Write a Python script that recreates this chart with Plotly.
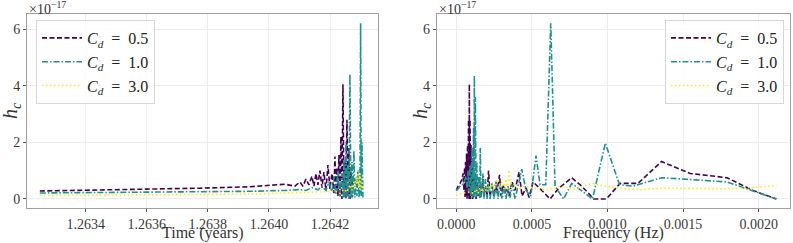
import plotly.graph_objects as go

# ---- data (h_c in units of 1e-17) ----
labels = ["<i>C</i><sub><i>d</i></sub>\u2002=\u20020.5", "<i>C</i><sub><i>d</i></sub>\u2002=\u20021.0",
          "<i>C</i><sub><i>d</i></sub>\u2002=\u20023.0"]

t_05 = [1.26325, 1.263447, 1.263611, 1.263774, 1.263938, 1.2640033, 1.2640524, 1.2640851,
        1.2641015, 1.2641113, 1.2641211, 1.264131, 1.2641408, 1.2641473, 1.2641539, 1.2641604,
        1.264167, 1.2641735, 1.26418, 1.2641866, 1.2641931, 1.2641997, 1.2642062, 1.2642128,
        1.264216, 1.2642193, 1.2642226, 1.2642259, 1.2642291, 1.2642324, 1.2642357, 1.2642389,
        1.2642422, 1.2642455, 1.2642488, 1.264252, 1.2642553, 1.2642586, 1.2642619, 1.2642651,
        1.2642684, 1.2642717, 1.2642749]
h_05 = [0.28, 0.31, 0.34, 0.38, 0.43, 0.47, 0.52, 0.45,
        0.6, 0.45, 0.7, 0.5, 0.8, 0.45, 0.9, 0.5,
        1.0, 0.4, 0.95, 0.3, 1.2, 0.35, 0.9, 0.2,
        1.5, 0.3, 1.1, 0.1, 1.55, 0.05, 2.2, 0.0,
        4.05, 0.1, 1.3, 0.0, 2.8, 0.05, 1.8, 0.0,
        1.1, 0.05, 0.8]

t_10 = [1.26325, 1.263447, 1.263611, 1.263774, 1.263938, 1.2640524, 1.2641015, 1.2641211,
        1.2641408, 1.2641604, 1.2641735, 1.2641866, 1.2641964, 1.2642062, 1.2642128, 1.2642193,
        1.2642259, 1.2642324, 1.2642389, 1.2642439, 1.2642455, 1.2642488, 1.264252, 1.2642553,
        1.2642586, 1.2642619, 1.2642651, 1.2642684, 1.2642717, 1.2642749, 1.2642782, 1.2642815,
        1.2642848, 1.264288, 1.2642913, 1.2642946, 1.2642978, 1.2643001, 1.2643021, 1.2643044,
        1.2643077]
h_10 = [0.21, 0.22, 0.23, 0.25, 0.27, 0.3, 0.33, 0.3,
        0.4, 0.32, 0.45, 0.3, 0.6, 0.25, 0.8, 0.15,
        1.0, 0.1, 0.9, 0.05, 1.4, 0.05, 2.0, 0.1,
        1.2, 0.0, 4.4, 0.05, 1.3, 0.1, 1.7, 0.05,
        0.8, 0.1, 1.0, 0.05, 0.3, 6.2, 0.1, 2.0,
        0.05]

t_30 = [1.26325, 1.263611, 1.263938, 1.2641015, 1.264167, 1.264216, 1.2642324, 1.2642455,
        1.2642553, 1.2642651, 1.2642717, 1.2642782, 1.2642815, 1.2642848, 1.264288, 1.2642913,
        1.2642946, 1.2642978, 1.2643011, 1.2643044, 1.2643077]
h_30 = [0.12, 0.14, 0.17, 0.22, 0.25, 0.28, 0.2, 0.35,
        0.25, 0.5, 0.3, 0.6, 0.4, 0.8, 0.5, 1.0,
        0.4, 0.9, 0.3, 0.7, 0.35]

f_05 = [0.0, 0.0000112, 0.0000245, 0.0000377, 0.0000443, 0.0000509, 0.0000542, 0.0000575,
        0.0000608, 0.0000642, 0.0000675, 0.0000708, 0.0000741, 0.0000774, 0.0000807, 0.000084,
        0.000086, 0.0000873, 0.0000906, 0.0000939, 0.0000972, 0.0001005, 0.0001038, 0.0001085,
        0.0001118, 0.0001151, 0.0001237, 0.0001303, 0.0001369, 0.0001435, 0.0001568, 0.0001634,
        0.0001766, 0.0001832, 0.0001964, 0.000203, 0.0002129, 0.0002229, 0.0002361, 0.0002493,
        0.0002626, 0.0002692, 0.0002857, 0.0002956, 0.0003089, 0.0003221, 0.0003353, 0.0003486,
        0.0003684, 0.0003882, 0.0004147, 0.0004345, 0.0004609, 0.0004808, 0.0005073, 0.000547,
        0.0006197, 0.0006727, 0.0007633, 0.0008294, 0.0009088, 0.0009928, 0.0010827, 0.0012018,
        0.0013572, 0.0015457, 0.0017904, 0.0019624, 0.0021165]
hf_05 = [0.3, 0.45, 0.55, 0.7, 0.9, 0.3, 1.1, 0.05,
         1.3, 0.1, 1.6, 0.0, 1.9, 0.1, 2.8, 0.0,
         4.05, 0.1, 2.8, 0.0, 1.9, 0.1, 1.4, 0.0,
         1.1, 0.05, 0.9, 0.0, 0.6, 0.1, 0.5, 0.05,
         0.7, 0.1, 0.4, 0.05, 1.0, 0.1, 0.45, 0.1,
         0.6, 0.2, 0.85, 0.1, 0.5, 0.2, 0.4, 0.1,
         0.6, 0.3, 0.95, 0.1, 0.4, 0.05, 0.6, 0.4,
         0.0, 0.35, 0.75, 0.45, 0.0, 0.0, 0.55, 0.55,
         1.32, 0.9, 0.75, 0.3, 0.0]

f_10 = [0.0, 0.0000112, 0.0000245, 0.0000377, 0.0000509, 0.0000642, 0.0000708, 0.0000774,
        0.000084, 0.0000906, 0.0000972, 0.0001038, 0.0001085, 0.0001138, 0.0001171, 0.000119,
        0.0001224, 0.0001257, 0.0001303, 0.0001347, 0.0001402, 0.0001468, 0.0001548, 0.0001581,
        0.0001634, 0.0001766, 0.0001832, 0.0001931, 0.0002031, 0.0002129, 0.0002229, 0.0002361,
        0.0002493, 0.0002626, 0.0002758, 0.000289, 0.0003023, 0.0003155, 0.0003287, 0.000342,
        0.0003552, 0.0003684, 0.0003882, 0.0004325, 0.0004609, 0.0004919, 0.0005271, 0.0005536,
        0.0005914, 0.0006244, 0.0006528, 0.000709, 0.0007633, 0.0009008, 0.0009855, 0.0010794,
        0.0011687, 0.0013572, 0.0017904, 0.0021165]
hf_10 = [0.3, 0.35, 0.45, 0.5, 0.6, 0.8, 0.3, 1.0,
         0.2, 1.2, 0.1, 1.8, 0.05, 2.5, 0.1, 4.35,
         0.2, 3.6, 0.05, 1.3, 0.1, 0.8, 0.0, 1.8,
         0.05, 0.9, 0.0, 0.7, 0.0, 0.6, 0.0, 0.55,
         0.0, 0.6, 0.0, 0.55, 0.0, 0.5, 0.0, 0.45,
         0.05, 0.5, 0.0, 1.05, 0.3, 0.1, 1.53, 0.5,
         0.5, 6.2, 0.45, 0.0, 0.55, 0.0, 1.97, 0.5,
         0.45, 0.75, 0.6, 0.0]

f_30 = [0.0, 0.0000245, 0.0000575, 0.0000906, 0.0001171, 0.0001303, 0.0001435, 0.0001568,
        0.00017, 0.0001832, 0.0001964, 0.0002097, 0.0002229, 0.0002361, 0.0002493, 0.0002626,
        0.0002758, 0.000289, 0.0003023, 0.0003155, 0.0003287, 0.0003386, 0.0003486, 0.0003618,
        0.0003816, 0.0004081, 0.0004544, 0.0005073, 0.0005867, 0.0006859, 0.0007851, 0.0008971,
        0.0009831, 0.0010827, 0.0012150, 0.0013539, 0.0015457, 0.0017904, 0.0019624, 0.0021165]
hf_30 = [0.12, 0.18, 0.22, 0.25, 0.2, 0.35, 0.2, 0.4,
         0.25, 0.45, 0.3, 0.55, 0.3, 0.6, 0.35, 0.5,
         0.7, 0.4, 0.6, 0.35, 0.7, 0.3, 1.02, 0.4,
         0.5, 0.35, 0.45, 0.4, 0.3, 0.45, 0.35, 0.55,
         0.45, 0.38, 0.32, 0.38, 0.37, 0.36, 0.4, 0.48]

x_titles = ["Time (years)", "Frequency (Hz)"]
y_title = "<i>h</i><sub><i>c</i></sub>"
exponent = "×10<sup>−17</sup>"

colors = ["#440154", "#21918c", "#fde725"]
dashes = ["5px,2.5px", "6px,2px,1.5px,2px", "1.5px,2.5px"]

time_series = [(t_05, h_05), (t_10, h_10), (t_30, h_30)]
freq_series = [(f_05, hf_05), (f_10, hf_10), (f_30, hf_30)]

fig = go.Figure()
for i, (x, y) in enumerate(time_series):
    fig.add_trace(go.Scatter(x=x, y=y, mode="lines", name=labels[i],
                             line=dict(color=colors[i], width=1.6, dash=dashes[i]),
                             xaxis="x", yaxis="y", legend="legend"))
for i, (x, y) in enumerate(freq_series):
    fig.add_trace(go.Scatter(x=x, y=y, mode="lines", name=labels[i],
                             line=dict(color=colors[i], width=1.6, dash=dashes[i]),
                             xaxis="x2", yaxis="y2", legend="legend2"))

SERIF = "Liberation Serif, DejaVu Serif, serif"
tickfont = dict(family=SERIF, size=14, color="#3a3a3a")
frame = "#a0a0a0"
grid = "#ececec"

common_axis = dict(showline=True, linecolor=frame, linewidth=1, mirror=True,
                   showgrid=True, gridcolor=grid, gridwidth=1, zeroline=False,
                   ticks="outside", ticklen=3, tickcolor="#555555", tickfont=tickfont,
                   automargin=False)

y_dom = [1 - 208 / 243, 1 - 14 / 243]
x_dom1 = [27 / 793, 378 / 793]
x_dom2 = [436.7 / 793, 789.7 / 793]

legend_style = dict(bgcolor="rgba(255,255,255,0.85)", bordercolor="#d6d6d6", borderwidth=1,
                    itemwidth=40, font=dict(family=SERIF, size=16, color="#222222"))

annots = []
for dom, xt, yx in [(x_dom1, x_titles[0], 11), (x_dom2, x_titles[1], 421)]:
    annots.append(dict(text=xt, xref="paper", yref="paper", x=(dom[0] + dom[1]) / 2, y=1 - 233 / 243,
                       xanchor="center", yanchor="middle", showarrow=False,
                       font=dict(family=SERIF, size=16, color="#333333")))
    annots.append(dict(text=y_title, xref="paper", yref="paper", x=yx / 793, y=1 - 111 / 243,
                       xanchor="center", yanchor="middle", showarrow=False, textangle=-90,
                       font=dict(family=SERIF, size=20, color="#333333")))
    annots.append(dict(text=exponent, xref="paper", yref="paper", x=dom[0], y=1 - 8 / 243,
                       xanchor="left", yanchor="middle", showarrow=False,
                       font=dict(family=SERIF, size=14, color="#333333")))

fig.update_layout(
    width=793, height=243,
    margin=dict(l=0, r=0, t=0, b=0, autoexpand=False),
    paper_bgcolor="white", plot_bgcolor="white",
    font=dict(family=SERIF, color="#333333"),
    xaxis=dict(domain=x_dom1, range=[1.263208, 1.264357],
               tickvals=[1.2634, 1.2636, 1.2638, 1.2640, 1.2642], tickformat=".4f",
               anchor="y", **common_axis),
    yaxis=dict(domain=y_dom, range=[-0.32, 6.53], tickvals=[0, 2, 4, 6],
               anchor="x", **common_axis),
    xaxis2=dict(domain=x_dom2, range=[-0.00013, 0.002205],
                tickvals=[0.0, 0.0005, 0.0010, 0.0015, 0.0020], tickformat=".4f",
                anchor="y2", **common_axis),
    yaxis2=dict(domain=y_dom, range=[-0.32, 6.53], tickvals=[0, 2, 4, 6],
                anchor="x2", **common_axis),
    legend=dict(x=36 / 793, y=1 - 20 / 243, xanchor="left", yanchor="top", **legend_style),
    legend2=dict(x=784 / 793, y=1 - 20 / 243, xanchor="right", yanchor="top", **legend_style),
    annotations=annots,
)

fig.write_html("out.html", config={"displayModeBar": False},
               post_script="document.body.style.margin='0px';document.body.style.overflow='hidden';")
